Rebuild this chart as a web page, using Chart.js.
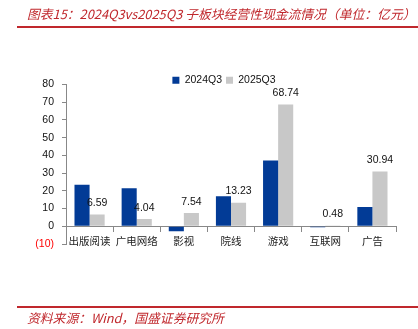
<!DOCTYPE html>
<html>
<head>
<meta charset="utf-8">
<script src="https://cdn.jsdelivr.net/npm/chart.js@4.4.0/dist/chart.umd.min.js"></script>
<style>
  body { margin: 0; width: 418px; height: 329px; background: #fff; position: relative; overflow: hidden; font-family: "Noto Sans CJK SC", sans-serif; }
  #chart { position: absolute; left: 0; top: 0; }
  #title { position: absolute; left: 27px; top: 5px; font-size: 12.8px; line-height: 18px; color: #c0282d; font-style: italic; white-space: nowrap; }
  #source { position: absolute; left: 27px; top: 309px; font-size: 12.8px; line-height: 18px; color: #c0282d; font-style: italic; white-space: nowrap; }
  .rule { position: absolute; left: 17px; right: 0; height: 2px; background: #c0282d; }
</style>
</head>
<body>
<canvas id="chart" width="418" height="329"></canvas>
<div id="title">图表15：2024Q3vs2025Q3 子板块经营性现金流情况（单位：亿元）</div>
<div class="rule" style="top:26px"></div>
<div class="rule" style="top:306px"></div>
<div id="source">资料来源：Wind，国盛证券研究所</div>
<script>
var categories = ["出版阅读", "广电网络", "影视", "院线", "游戏", "互联网", "广告"];
var q2024 = [23.4, 21.4, -2.8, 16.9, 37.1, -0.5, 10.9];
var q2025 = [6.59, 4.04, 7.54, 13.23, 68.74, 0.48, 30.94];
var seriesNames = ["2024Q3", "2025Q3"];
var yMin = -10, yMax = 80, yStep = 10;

var numFont = "Liberation Sans";

// value labels above the 2025Q3 bars
var barLabels = {
  id: 'barLabels',
  afterDatasetsDraw: function(chart) {
    var ctx = chart.ctx;
    var meta = chart.getDatasetMeta(1);
    ctx.save();
    ctx.font = "10.5px " + numFont;
    ctx.fillStyle = "#111";
    ctx.textAlign = "center";
    ctx.textBaseline = "bottom";
    meta.data.forEach(function(bar, i) {
      ctx.fillText(q2025[i].toFixed(2), bar.x, bar.y - 6);
    });
    ctx.restore();
  }
};

// move the legend right and down, like the original
var legendShift = {
  id: 'legendShift',
  afterLayout: function(chart) {
    chart.legend.left += 16;
    chart.legend.right += 16;
    chart.legend.top += 11;
    chart.legend.bottom += 11;
  }
};

new Chart(document.getElementById('chart'), {
  type: 'bar',
  data: {
    labels: categories,
    datasets: [
      { label: seriesNames[0], data: q2024, backgroundColor: "#023b96" },
      { label: seriesNames[1], data: q2025, backgroundColor: "#c8c8c8" }
    ]
  },
  options: {
    responsive: false,
    animation: false,
    layout: { padding: { left: 20, right: 22, top: 60, bottom: 85 } },
    datasets: { bar: { barPercentage: 1, categoryPercentage: 0.64 } },
    plugins: {
      tooltip: { enabled: false },
      legend: {
        position: 'top',
        labels: {
          boxWidth: 7, boxHeight: 7, padding: 4, color: "#111",
          font: { family: numFont, size: 10.5 }
        }
      }
    },
    scales: {
      x: {
        position: { y: 0 },
        grid: { offset: true, drawOnChartArea: false, tickLength: 5, color: "#888" },
        border: { color: "#888" },
        ticks: { padding: 3, color: "#222", maxRotation: 0, autoSkip: false,
          font: { family: "Noto Sans CJK SC", size: 10.5 } }
      },
      y: {
        min: yMin, max: yMax,
        afterFit: function(s) { s.width = 46; },
        grid: { drawOnChartArea: false, tickLength: 4, color: "#888" },
        border: { color: "#888" },
        ticks: {
          stepSize: yStep, padding: 8,
          font: { family: numFont, size: 10.5 },
          color: function(c) { return c.tick.value < 0 ? "#ff0000" : "#111"; },
          callback: function(v) { return v < 0 ? "(" + (-v) + ")" : v; }
        }
      }
    }
  },
  plugins: [barLabels, legendShift]
});
</script>
</body>
</html>
